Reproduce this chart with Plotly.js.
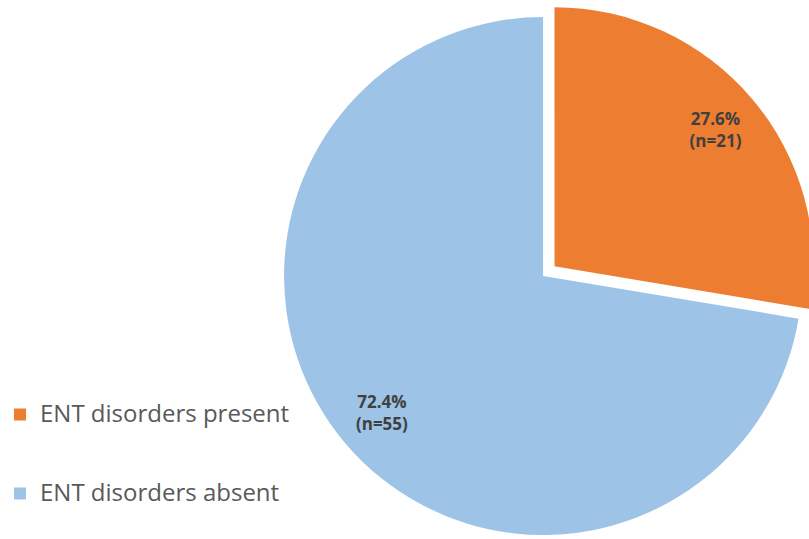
<!DOCTYPE html>
<html>
<head>
<meta charset="utf-8">
<script src="https://cdn.plot.ly/plotly-3.0.1.min.js"></script>
<style>
  html, body { margin: 0; padding: 0; overflow: hidden; background: #ffffff; width: 809px; height: 539px; }
  #chart { position: absolute; left: 0px; top: 1px; width: 840px; height: 550px; }
</style>
</head>
<body>
<div id="chart"></div>
<script>
var labels = ['ENT disorders present', 'ENT disorders absent'];
var counts = [21, 55];

// legend entries: the first one gets two blank lines so the two entries sit far apart, as in the reference
var legendLabels = labels.map(function (s, i) {
  var t = '<span style="font-size:24px">' + s + '</span>';
  return i === 0 ? t + '<br> <br> ' : t;
});

var pieBase = {
  type: 'pie',
  labels: legendLabels,
  values: counts,
  sort: false,
  direction: 'clockwise',
  rotation: 0,
  pull: [0.058, 0],
  domain: { x: [267 / 840, 817 / 840], y: [0, 1] }
};

var mainPie = Object.assign({}, pieBase, {
  marker: { colors: ['#ED7D31', '#9DC3E6'], line: { width: 0 } },
  textinfo: 'none',
  hoverinfo: 'skip',
  showlegend: true
});

var labelRing = Object.assign({}, pieBase, {
  hole: 0.63,
  marker: { colors: ['rgba(0,0,0,0)', 'rgba(0,0,0,0)'], line: { width: 0 } },
  texttemplate: '%{percent:.1%}<br>(n=%{value})',
  textposition: 'inside',
  insidetextorientation: 'horizontal',
  insidetextfont: { family: 'Open Sans, Noto Sans, sans-serif', size: 17, color: '#404040', weight: 'bold' },
  hoverinfo: 'skip',
  showlegend: false
});

var layout = {
  width: 840,
  height: 550,
  margin: { l: 0, r: 0, t: 0, b: 0, pad: 0 },
  paper_bgcolor: '#ffffff',
  plot_bgcolor: '#ffffff',
  showlegend: true,
  legend: {
    x: -3 / 840, xanchor: 'left',
    y: 1 - 394.3 / 550, yanchor: 'top',
    valign: 'top',
    font: { family: 'Open Sans, Noto Sans, sans-serif', size: 19.5, color: '#595959' },
    bgcolor: 'rgba(0,0,0,0)', borderwidth: 0
  }
};

Plotly.newPlot('chart', [mainPie, labelRing], layout, { displayModeBar: false, staticPlot: true });
</script>
</body>
</html>
